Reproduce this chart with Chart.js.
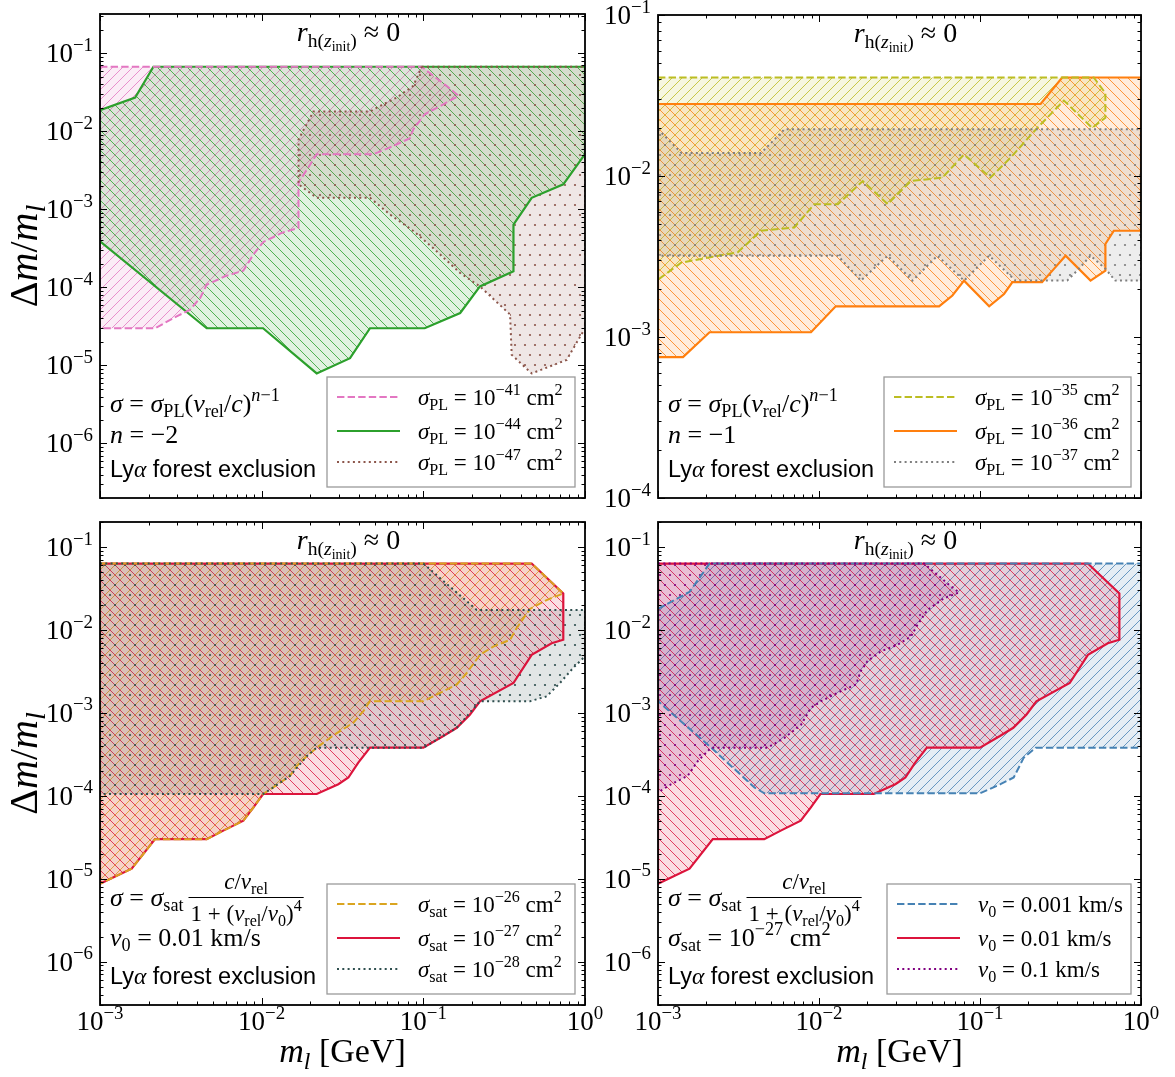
<!DOCTYPE html>
<html><head><meta charset="utf-8"><title>Lyα forest exclusion</title>
<script src="https://cdn.jsdelivr.net/npm/chart.js@4.4.1/dist/chart.umd.min.js"></script>
<style>
html,body{margin:0;padding:0;background:#fff;}
#fig{position:relative;width:1175px;height:1077px;overflow:hidden;background:#fff;}
#fig canvas{position:absolute;left:0;top:0;}
</style></head><body>
<div id="fig">
<canvas id="pTL" width="1175" height="1077"></canvas>
<canvas id="pTR" width="1175" height="1077"></canvas>
<canvas id="pBL" width="1175" height="1077"></canvas>
<canvas id="pBR" width="1175" height="1077"></canvas>
</div>
<script>
// ---------- excluded regions: [m_l (GeV), Δm/m_l] polygon vertices ----------
// power law, n = -2
const sigmaPL41 = [[1e-3,0.0674],[0.0977,0.0674],[0.139,0.0384],[0.165,0.0286],[0.136,0.0228],[0.102,0.0166],[0.0867,0.0106],[0.0827,0.0082],[0.0652,0.0065],[0.0491,0.0051],[0.0219,0.0051],[0.0169,0.0022],[0.0169,5.8e-4],[0.0133,5.0e-4],[0.0102,3.8e-4],[0.00888,2.63e-4],[0.0077,1.64e-4],[0.00593,1.39e-4],[0.00457,1.08e-4],[0.00416,7.3e-5],[0.00361,5.2e-5],[0.00298,4.25e-5],[0.00219,3.0e-5],[1e-3,3.0e-5]];
const sigmaPL44 = [[1e-3,0.0187],[0.00165,0.0272],[0.00214,0.0674],[1,0.0674],[1,0.0051],[0.734,0.0021],[0.468,0.00141],[0.361,6.4e-4],[0.361,1.61e-4],[0.224,1.03e-4],[0.169,4.7e-5],[0.102,3.0e-5],[0.0468,3.0e-5],[0.0352,1.24e-5],[0.0219,7.9e-6],[0.0102,3.0e-5],[0.00457,3.0e-5],[1e-3,3.9e-4]];
const sigmaPL47 = [[0.0977,0.0674],[1,0.0674],[1,3.0e-5],[0.847,1.66e-5],[0.771,1.18e-5],[0.468,7.9e-6],[0.352,1.37e-5],[0.344,4.5e-5],[0.224,1.03e-4],[0.169,1.53e-4],[0.115,3.2e-4],[0.0867,5.3e-4],[0.0622,8.6e-4],[0.0468,1.41e-3],[0.0219,1.41e-3],[0.0169,2.1e-3],[0.0169,7.9e-3],[0.0209,0.018],[0.0468,0.018],[0.054,0.0212],[0.0684,0.0272],[0.0867,0.0384]];
// power law, n = -1
const sigmaPL35 = [[1e-3,0.0409],[0.509,0.0409],[0.601,0.0327],[0.601,0.023],[0.497,0.0199],[0.332,0.0294],[0.227,0.0199],[0.155,0.013],[0.116,0.00977],[0.0796,0.0136],[0.0584,0.00977],[0.0372,0.0093],[0.0267,0.00668],[0.0187,0.0093],[0.0131,0.00668],[0.00935,0.00668],[0.00703,0.00479],[0.00437,0.00457],[0.00313,0.00336],[0.0014,0.0029],[1e-3,0.00227]];
const sigmaPL36 = [[1e-3,0.028],[0.238,0.028],[0.324,0.0409],[1,0.0409],[1,0.00457],[0.678,0.00457],[0.601,0.00378],[0.601,0.00258],[0.486,0.00224],[0.34,0.0032],[0.288,0.00265],[0.243,0.00219],[0.159,0.00219],[0.141,0.00185],[0.114,0.00155],[0.0796,0.00224],[0.0674,0.00181],[0.0557,0.00155],[0.0127,0.00155],[0.00892,0.00107],[0.00209,0.00107],[0.00143,7.5e-4],[1e-3,7.5e-4]];
const sigmaPL37 = [[1e-3,0.0195],[0.0014,0.0139],[0.00437,0.0139],[0.0061,0.0195],[1,0.0195],[1,0.00224],[0.693,0.00224],[0.601,0.00265],[0.486,0.0032],[0.411,0.00265],[0.348,0.00224],[0.166,0.00224],[0.114,0.0032],[0.0796,0.00224],[0.0544,0.0032],[0.0381,0.00224],[0.0267,0.0032],[0.0182,0.00224],[0.0131,0.0032],[1e-3,0.0032]];
// saturated cross section, v0 = 0.01 km/s
const sigmaSat26 = [[1e-3,0.0631],[0.468,0.0631],[0.734,0.0275],[0.579,0.0229],[0.457,0.0179],[0.378,0.0105],[0.344,0.0076],[0.271,0.0063],[0.224,0.005],[0.185,0.003],[0.161,0.00219],[0.127,0.00174],[0.1,0.00138],[0.0468,0.00138],[0.0426,0.00105],[0.0369,7.6e-4],[0.0284,5.5e-4],[0.0219,3.8e-4],[0.019,3.0e-4],[0.0165,2.29e-4],[0.015,1.74e-4],[0.0118,1.26e-4],[0.0102,1.05e-4],[0.00888,7.2e-5],[0.0077,5.0e-5],[0.00579,3.8e-5],[0.00457,3.0e-5],[0.00219,3.0e-5],[0.00157,1.32e-5],[1e-3,8.7e-6]];
const sigmaSat27 = [[1e-3,0.0631],[0.468,0.0631],[0.734,0.0275],[0.734,0.0076],[0.622,0.0069],[0.468,0.005],[0.361,0.00229],[0.224,0.00138],[0.194,9.5e-4],[0.161,6.6e-4],[0.133,5.25e-4],[0.1,3.8e-4],[0.0468,3.8e-4],[0.0396,2.51e-4],[0.0344,1.66e-4],[0.0298,1.38e-4],[0.0219,1.05e-4],[0.0102,1.05e-4],[0.00888,7.2e-5],[0.0077,5.0e-5],[0.00579,3.8e-5],[0.00457,3.0e-5],[0.00219,3.0e-5],[0.00157,1.32e-5],[1e-3,8.7e-6]];
const sigmaSat28 = [[1e-3,0.0631],[0.1,0.0631],[0.214,0.0174],[1,0.0174],[1,0.0048],[0.847,0.0035],[0.7,0.00229],[0.579,0.00158],[0.457,0.00138],[0.224,0.00138],[0.161,6.6e-4],[0.1,3.8e-4],[0.0219,3.8e-4],[0.019,3.0e-4],[0.015,1.74e-4],[0.0118,1.26e-4],[0.0102,1.05e-4],[1e-3,1.05e-4]];
// saturated cross section, sigma_sat = 1e-27 cm^2
const v0p001 = [[1e-3,0.0179],[0.00157,0.0288],[0.00209,0.0631],[1,0.0631],[1,3.8e-4],[0.222,3.8e-4],[0.187,2.88e-4],[0.162,1.66e-4],[0.134,1.38e-4],[0.1,1.07e-4],[0.00458,1.07e-4],[0.00397,1.26e-4],[0.00214,3.8e-4],[1e-3,0.00138]];
const v0p01 = sigmaSat27;
const v0p1 = [[1e-3,0.0631],[0.045,0.0631],[0.0628,0.0363],[0.0741,0.0283],[0.0597,0.024],[0.0471,0.0174],[0.0409,0.0115],[0.0372,0.0083],[0.0307,0.0066],[0.0242,0.0055],[0.02,0.0042],[0.0182,0.0032],[0.017,0.0022],[0.013,0.00174],[0.0103,0.00138],[0.00892,0.00115],[0.00774,7.2e-4],[0.00611,5.0e-4],[0.0048,3.8e-4],[0.00214,3.8e-4],[0.00177,2.63e-4],[0.00153,1.74e-4],[0.00121,1.38e-4],[1e-3,1.1e-4]];

// ---------- axis ranges and tick labels (powers of ten) ----------
const xRange = [1e-3, 1];
const yRangeTL = [2e-7, 0.32];
const yRangeTR = [1e-4, 0.1];
const yRangeBottom = [3e-7, 0.2];
const xTickExps = [-3, -2, -1, 0];
const yTickExpsTL = [-1, -2, -3, -4, -5, -6];
const yTickExpsTR = [-1, -2, -3, -4];
const yTickExpsBottom = [-1, -2, -3, -4, -5, -6];

// ---------- styling ----------
const SERIF = '"Liberation Serif", "DejaVu Serif", serif';
const SANS = '"Liberation Sans", "DejaVu Sans", Arial, sans-serif';
const DASHED = [7.4, 3.2];
const DOTTED = [2, 3.3];
const FACE_ALPHA = 0.14;
const NOTE_SIZE = 26;
const FRAC_SIZE = 23;

// text runs: [text, style]; style letters: i italic, r roman, s sans, P superscript, B subscript, Q second-level subscript
function runFont(style, size) {
  let s = size, dy = 0;
  if (style.includes('P')) { s = size * 0.7; dy = -0.42 * size; }
  if (style.includes('B')) { s = size * 0.7; dy = 0.2 * size; }
  if (style.includes('Q')) { s = size * 0.5; dy = 0.36 * size; }
  const it = style.includes('i') ? 'italic ' : '';
  const fam = style.includes('s') ? SANS : SERIF;
  return { font: it + s.toFixed(2) + 'px ' + fam, dy };
}
function measureRuns(ctx, runs, size) {
  let w = 0;
  for (const [t, st] of runs) { ctx.font = runFont(st, size).font; w += ctx.measureText(t).width; }
  return w;
}
function drawRuns(ctx, runs, x, y, size, align) {
  const w = measureRuns(ctx, runs, size);
  let cx = align === 'center' ? x - w / 2 : align === 'right' ? x - w : x;
  ctx.textBaseline = 'alphabetic'; ctx.textAlign = 'left';
  for (const [t, st] of runs) {
    const f = runFont(st, size);
    ctx.font = f.font; ctx.fillText(t, cx, y + f.dy);
    cx += ctx.measureText(t).width;
  }
  return w;
}
const pow10Runs = e => [['10', 'r'], [e < 0 ? '\u2212' + (-e) : String(e), 'rP']];

function hatchPattern(ctx, rgb, kind) {
  const w = 10, h = kind === 'dots' ? 20 : 10;
  const c = document.createElement('canvas'); c.width = w; c.height = h;
  const g = c.getContext('2d');
  g.fillStyle = 'rgba(' + rgb + ',' + FACE_ALPHA + ')'; g.fillRect(0, 0, w, h);
  g.strokeStyle = 'rgb(' + rgb + ')'; g.fillStyle = 'rgb(' + rgb + ')'; g.lineWidth = 0.8;
  const seg = (a, b, c2, d) => { g.beginPath(); g.moveTo(a, b); g.lineTo(c2, d); g.stroke(); };
  if (kind === '/') { seg(-1, 11, 11, -1); seg(-1, 1, 1, -1); seg(9, 11, 11, 9); }
  else if (kind === '\\') { seg(-1, -1, 11, 11); seg(9, -1, 11, 1); seg(-1, 9, 1, 11); }
  else {
    for (const [px, py] of [[5, 5], [0, 15], [10, 15]]) { g.beginPath(); g.arc(px, py, 1.1, 0, Math.PI * 2); g.fill(); }
  }
  return ctx.createPattern(c, 'repeat');
}

// ---------- panels ----------
const sigPL = e => [['\u03c3', 'i'], ['PL', 'rB'], [' = 10', 'r'], ['\u2212' + e, 'rP'], [' cm', 'r'], ['2', 'rP']];
const sigSat = e => [['\u03c3', 'i'], ['sat', 'rB'], [' = 10', 'r'], ['\u2212' + e, 'rP'], [' cm', 'r'], ['2', 'rP']];
const v0Label = v => [['v', 'i'], ['0', 'rB'], [' = ' + v + ' km/s', 'r']];
const lyaRuns = [['Ly', 's'], ['\u03b1', 'i'], [' forest exclusion', 's']];
const plRuns = [['\u03c3', 'i'], [' = ', 'r'], ['\u03c3', 'i'], ['PL', 'rB'], ['(', 'r'], ['v', 'i'], ['rel', 'rB'], ['/', 'r'], ['c', 'i'], [')', 'r'], ['n', 'iP'], ['\u22121', 'rP']];

const panels = [
  { id: 'pTL', area: { l: 100, t: 14, r: 585, b: 498 }, y: yRangeTL, yExps: yTickExpsTL, xLabels: false, yTitle: true,
    series: [
      { pts: sigmaPL41, rgb: '227,119,194', hatch: '/', dash: DASHED, lw: 2, label: sigPL(41) },
      { pts: sigmaPL44, rgb: '44,160,44', hatch: '\\', dash: [], lw: 2.2, label: sigPL(44) },
      { pts: sigmaPL47, rgb: '140,86,75', hatch: 'dots', dash: DOTTED, lw: 2, label: sigPL(47) } ],
    note: 'pl', n: '\u22122', legendW: 258 },
  { id: 'pTR', area: { l: 658, t: 15, r: 1141, b: 498 }, y: yRangeTR, yExps: yTickExpsTR, xLabels: false, yTitle: false,
    series: [
      { pts: sigmaPL35, rgb: '188,189,34', hatch: '/', dash: DASHED, lw: 2, label: sigPL(35) },
      { pts: sigmaPL36, rgb: '255,127,14', hatch: '\\', dash: [], lw: 2.2, label: sigPL(36) },
      { pts: sigmaPL37, rgb: '127,127,127', hatch: 'dots', dash: DOTTED, lw: 2, label: sigPL(37) } ],
    note: 'pl', n: '\u22121', legendW: 257 },
  { id: 'pBL', area: { l: 100, t: 522, r: 585, b: 1005 }, y: yRangeBottom, yExps: yTickExpsBottom, xLabels: true, yTitle: true,
    series: [
      { pts: sigmaSat26, rgb: '218,165,32', hatch: '/', dash: DASHED, lw: 2, label: sigSat(26) },
      { pts: sigmaSat27, rgb: '220,20,60', hatch: '\\', dash: [], lw: 2.2, label: sigSat(27) },
      { pts: sigmaSat28, rgb: '47,79,79', hatch: 'dots', dash: DOTTED, lw: 2, label: sigSat(28) } ],
    note: 'sat', second: v0Label('0.01'), legendW: 258 },
  { id: 'pBR', area: { l: 658, t: 522, r: 1141, b: 1005 }, y: yRangeBottom, yExps: yTickExpsBottom, xLabels: true, yTitle: false,
    series: [
      { pts: v0p001, rgb: '70,130,180', hatch: '/', dash: DASHED, lw: 2, label: v0Label('0.001') },
      { pts: v0p01, rgb: '220,20,60', hatch: '\\', dash: [], lw: 2.2, label: v0Label('0.01') },
      { pts: v0p1, rgb: '128,0,128', hatch: 'dots', dash: DOTTED, lw: 2, label: v0Label('0.1') } ],
    note: 'sat', second: sigSat(27), legendW: 254 }
];

function logTicks(min, max) {
  const out = [];
  for (let e = Math.floor(Math.log10(min)) - 1; e <= Math.ceil(Math.log10(max)); e++) {
    for (let k = 1; k <= 9; k++) {
      const v = k * Math.pow(10, e);
      if (v >= min * 0.9999 && v <= max * 1.0001) out.push({ v, major: k === 1 });
    }
  }
  return out;
}

function framePlugin(p) {
  return {
    id: 'frame' + p.id,
    afterDatasetsDraw(chart) {
      const ctx = chart.ctx, a = chart.chartArea, xs = chart.scales.x, ys = chart.scales.y;
      ctx.save();
      ctx.fillStyle = '#000';
      // ticks pointing inward on all four sides
      ctx.strokeStyle = '#000'; ctx.lineWidth = 1; ctx.setLineDash([]);
      const ln = (x1, y1, x2, y2) => { ctx.beginPath(); ctx.moveTo(x1, y1); ctx.lineTo(x2, y2); ctx.stroke(); };
      for (const t of logTicks(xs.min, xs.max)) {
        const px = Math.round(xs.getPixelForValue(t.v)) + 0.5, L = t.major ? 7 : 3.5;
        ln(px, a.bottom, px, a.bottom - L); ln(px, a.top, px, a.top + L);
      }
      for (const t of logTicks(ys.min, ys.max)) {
        const py = Math.round(ys.getPixelForValue(t.v)) + 0.5, L = t.major ? 7 : 3.5;
        ln(a.left, py, a.left + L, py); ln(a.right, py, a.right - L, py);
      }
      ctx.lineWidth = 1.8;
      ctx.strokeRect(a.left, a.top, a.right - a.left, a.bottom - a.top);

      // tick labels
      for (const e of p.yExps) {
        const py = ys.getPixelForValue(Math.pow(10, e));
        drawRuns(ctx, pow10Runs(e), a.left - 7, py + 9, 27, 'right');
      }
      if (p.xLabels) {
        for (const e of xTickExps) {
          const px = xs.getPixelForValue(Math.pow(10, e));
          drawRuns(ctx, pow10Runs(e), px, a.bottom + 25, 27, 'center');
        }
        drawRuns(ctx, [['m', 'i'], ['l', 'iB'], [' [GeV]', 'r']], (a.left + a.right) / 2, a.bottom + 57, 34, 'center');
      }
      if (p.yTitle) {
        ctx.save();
        ctx.translate(37, (a.top + a.bottom) / 2);
        ctx.rotate(-Math.PI / 2);
        drawRuns(ctx, [['\u0394', 'r'], ['m', 'i'], ['/', 'r'], ['m', 'i'], ['l', 'iB']], 0, 0, 40, 'center');
        ctx.restore();
      }

      // panel title
      drawRuns(ctx, [['r', 'i'], ['h(', 'rB'], ['z', 'iB'], ['init', 'rQ'], [')', 'rB'], [' \u2248 0', 'r']],
        (a.left + a.right) / 2 + 6, a.top + 27, 28, 'center');

      // cross-section annotation
      const nx = a.left + 10;
      if (p.note === 'pl') {
        drawRuns(ctx, plRuns, nx, a.bottom - 86, NOTE_SIZE, 'left');
        drawRuns(ctx, [['n', 'i'], [' = ' + p.n, 'r']], nx, a.bottom - 55, NOTE_SIZE, 'left');
      } else {
        const w1 = drawRuns(ctx, [['\u03c3', 'i'], [' = ', 'r'], ['\u03c3', 'i'], ['sat', 'rB']], nx, a.bottom - 99, NOTE_SIZE, 'left');
        const num = [['c', 'i'], ['/', 'r'], ['v', 'i'], ['rel', 'rB']];
        const den = [['1 + (', 'r'], ['v', 'i'], ['rel', 'rB'], ['/', 'r'], ['v', 'i'], ['0', 'rB'], [')', 'r'], ['4', 'rP']];
        const fw = Math.max(measureRuns(ctx, num, FRAC_SIZE), measureRuns(ctx, den, FRAC_SIZE)) + 4;
        const fx = nx + w1 + 5, fc = fx + fw / 2;
        drawRuns(ctx, num, fc, a.bottom - 116, FRAC_SIZE, 'center');
        drawRuns(ctx, den, fc, a.bottom - 84, FRAC_SIZE, 'center');
        ctx.lineWidth = 1; ctx.beginPath(); ctx.moveTo(fx, a.bottom - 107.5); ctx.lineTo(fx + fw, a.bottom - 107.5); ctx.stroke();
        drawRuns(ctx, p.second, nx, a.bottom - 59, NOTE_SIZE, 'left');
      }
      drawRuns(ctx, lyaRuns, nx, a.bottom - 21, 23.5, 'left');

      // legend
      const bx0 = a.right - p.legendW, bx1 = a.right - 10, by0 = a.bottom - 121, by1 = a.bottom - 11;
      ctx.fillStyle = '#fff'; ctx.fillRect(bx0, by0, bx1 - bx0, by1 - by0);
      ctx.strokeStyle = '#9a9a9a'; ctx.lineWidth = 1.3; ctx.strokeRect(bx0, by0, bx1 - bx0, by1 - by0);
      const rows = [101, 67, 36];
      p.series.forEach((s, i) => {
        const y = a.bottom - rows[i];
        ctx.strokeStyle = 'rgb(' + s.rgb + ')'; ctx.lineWidth = s.lw; ctx.setLineDash(s.dash);
        ln(bx0 + 10, y, bx0 + 73, y);
        ctx.setLineDash([]);
        ctx.fillStyle = '#000';
        drawRuns(ctx, s.label, bx0 + 91, y + 8, 23, 'left');
      });
      ctx.restore();
    }
  };
}

const W = 1175, H = 1077;
// outline stacking: solid edges first, dashed next, dotted on top
const outlineRank = s => (s.dash.length === 0 ? 0 : s.dash === DASHED ? 1 : 2);
for (const p of panels) {
  const canvas = document.getElementById(p.id);
  const ctx = canvas.getContext('2d');
  const datasets = [];
  p.series.forEach((s, i) => {
    const pts = s.pts.concat([s.pts[0]]).map(([x, y]) => ({ x, y }));
    // hatched face
    datasets.push({
      data: pts, order: 100 - i, fill: 'shape',
      backgroundColor: hatchPattern(ctx, s.rgb, s.hatch),
      borderColor: 'rgba(0,0,0,0)', borderWidth: 0,
      pointRadius: 0, pointHoverRadius: 0, tension: 0, clip: 0
    });
    // edge
    datasets.push({
      data: pts, order: 50 - outlineRank(s), fill: false,
      backgroundColor: 'rgba(0,0,0,0)',
      borderColor: 'rgb(' + s.rgb + ')', borderWidth: s.lw, borderDash: s.dash,
      borderCapStyle: 'butt', borderJoinStyle: 'miter',
      pointRadius: 0, pointHoverRadius: 0, tension: 0, clip: 0
    });
  });
  new Chart(ctx, {
    type: 'line',
    data: { datasets },
    options: {
      responsive: false, animation: false, devicePixelRatio: 1, events: [],
      layout: { padding: { left: p.area.l, top: p.area.t, right: W - p.area.r, bottom: H - p.area.b } },
      scales: {
        x: { type: 'logarithmic', min: xRange[0], max: xRange[1], display: false, bounds: 'data' },
        y: { type: 'logarithmic', min: p.y[0], max: p.y[1], display: false, bounds: 'data' }
      },
      plugins: { legend: { display: false }, tooltip: { enabled: false }, title: { display: false } }
    },
    plugins: [framePlugin(p)]
  });
}
</script></body></html>
